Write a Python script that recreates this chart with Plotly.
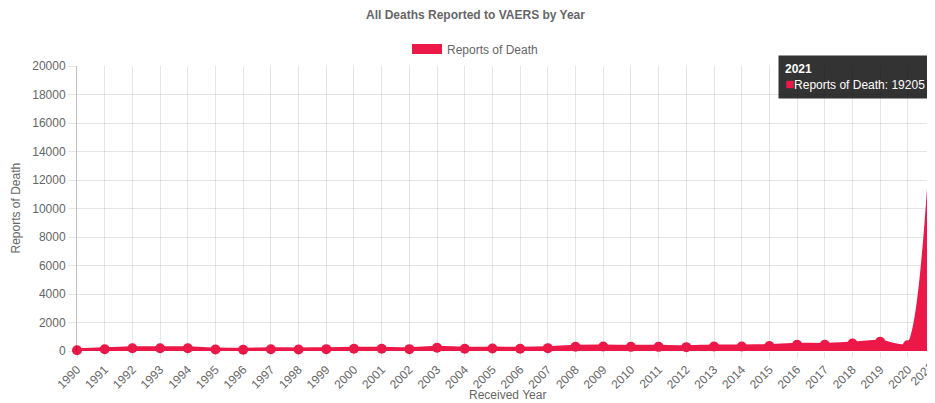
import plotly.graph_objects as go

years = list(range(1990, 2022))
deaths = [50, 120, 190, 190, 190, 110, 90, 120, 110, 130,
          160, 160, 130, 230, 160, 170, 160, 200, 300, 310,
          290, 290, 270, 320, 310, 350, 440, 430, 530, 650,
          400, 19205]

RED = "#EC1848"
GREY = "#666666"
FONT = "Liberation Sans, Arial, Helvetica, sans-serif"

# the page body has an 8px default margin; the visible area is 919 x 395
W, H = 919, 395
X_START = years[0]
X_END = 2020.69   # last year sits just past the visible right edge, as in the reference
Y_MAX = 20000

fig = go.Figure()
fig.add_trace(go.Scatter(
    x=years, y=deaths, name="Reports of Death",
    mode="lines+markers",
    line=dict(color=RED, width=4, shape="spline", smoothing=0.6),
    marker=dict(color=RED, size=10),
    fill="tozeroy", fillcolor=RED,
    cliponaxis=False, showlegend=False,
))
# legend entry (filled box like the reference)
fig.add_trace(go.Scatter(
    x=[None], y=[None], name="Reports of Death",
    mode="lines", line=dict(color=RED, width=14), showlegend=True,
))

# paper position of the last point (it lies just outside the axis range)
last_px = (years[-1] - X_START) / (X_END - X_START)
last_py = deaths[-1] / Y_MAX

# tooltip shown on the last point
fig.add_annotation(
    x=last_px, y=last_py, xref="paper", yref="paper",
    text=("<b>%d</b><br><span style='color:%s;font-size:15px'>■</span>Reports of Death: %d"
          % (years[-1], RED, deaths[-1])),
    showarrow=False, xanchor="right", yanchor="middle", xshift=-4,
    align="left", bgcolor="rgba(0,0,0,0.8)", bordercolor="rgba(0,0,0,0)",
    borderpad=6, font=dict(color="white", size=12, family=FONT),
)
# tick label of the last year (its tick lies past the visible edge)
fig.add_annotation(
    x=last_px, y=0, xref="paper", yref="paper", text=str(years[-1]),
    showarrow=False, textangle=-45, xanchor="right", yanchor="top",
    xshift=4, yshift=-6, font=dict(size=12, color=GREY, family=FONT),
)
# axis titles
fig.add_annotation(
    x=0.506, y=0, xref="paper", yref="paper", text="Received Year",
    showarrow=False, xanchor="center", yanchor="middle", yshift=-44,
    font=dict(size=12, color=GREY, family=FONT),
)
fig.add_annotation(
    x=0, y=0.5, xref="paper", yref="paper", text="Reports of Death",
    showarrow=False, xanchor="center", yanchor="middle", xshift=-62,
    textangle=-90, font=dict(size=12, color=GREY, family=FONT),
)

fig.update_layout(
    width=W, height=H,
    margin=dict(l=69, r=0, t=58, b=52),
    paper_bgcolor="white", plot_bgcolor="white",
    font=dict(family=FONT, size=12, color=GREY),
    title=dict(text="<b>All Deaths Reported to VAERS by Year</b>",
               x=467.5 / W, xanchor="center", xref="container",
               y=1 - 7 / H, yanchor="middle", yref="container",
               font=dict(size=12, color=GREY, family=FONT)),
    showlegend=True,
    legend=dict(orientation="h", x=467 / W, xanchor="center", xref="container",
                y=1 - 41 / H, yanchor="middle", yref="container",
                font=dict(size=12, color=GREY, family=FONT),
                bgcolor="rgba(0,0,0,0)"),
    xaxis=dict(
        range=[X_START, X_END], tickmode="array", tickvals=years,
        ticktext=[str(y) for y in years], tickangle=-45,
        showgrid=True, gridcolor="rgba(0,0,0,0.1)", gridwidth=1,
        ticks="outside", ticklen=6, tickcolor="rgba(0,0,0,0.1)",
        showline=False, zeroline=False, automargin=False,
        tickfont=dict(size=12, color=GREY),
    ),
    yaxis=dict(
        range=[0, Y_MAX], dtick=2000, tick0=0, tickformat="d",
        showgrid=True, gridcolor="rgba(0,0,0,0.1)", gridwidth=1,
        ticks="outside", ticklen=8, tickcolor="rgba(0,0,0,0.1)",
        showline=True, linecolor="rgba(0,0,0,0.25)", linewidth=1,
        zeroline=False, automargin=False,
        tickfont=dict(size=12, color=GREY),
    ),
)

fig.write_html("out.html")
